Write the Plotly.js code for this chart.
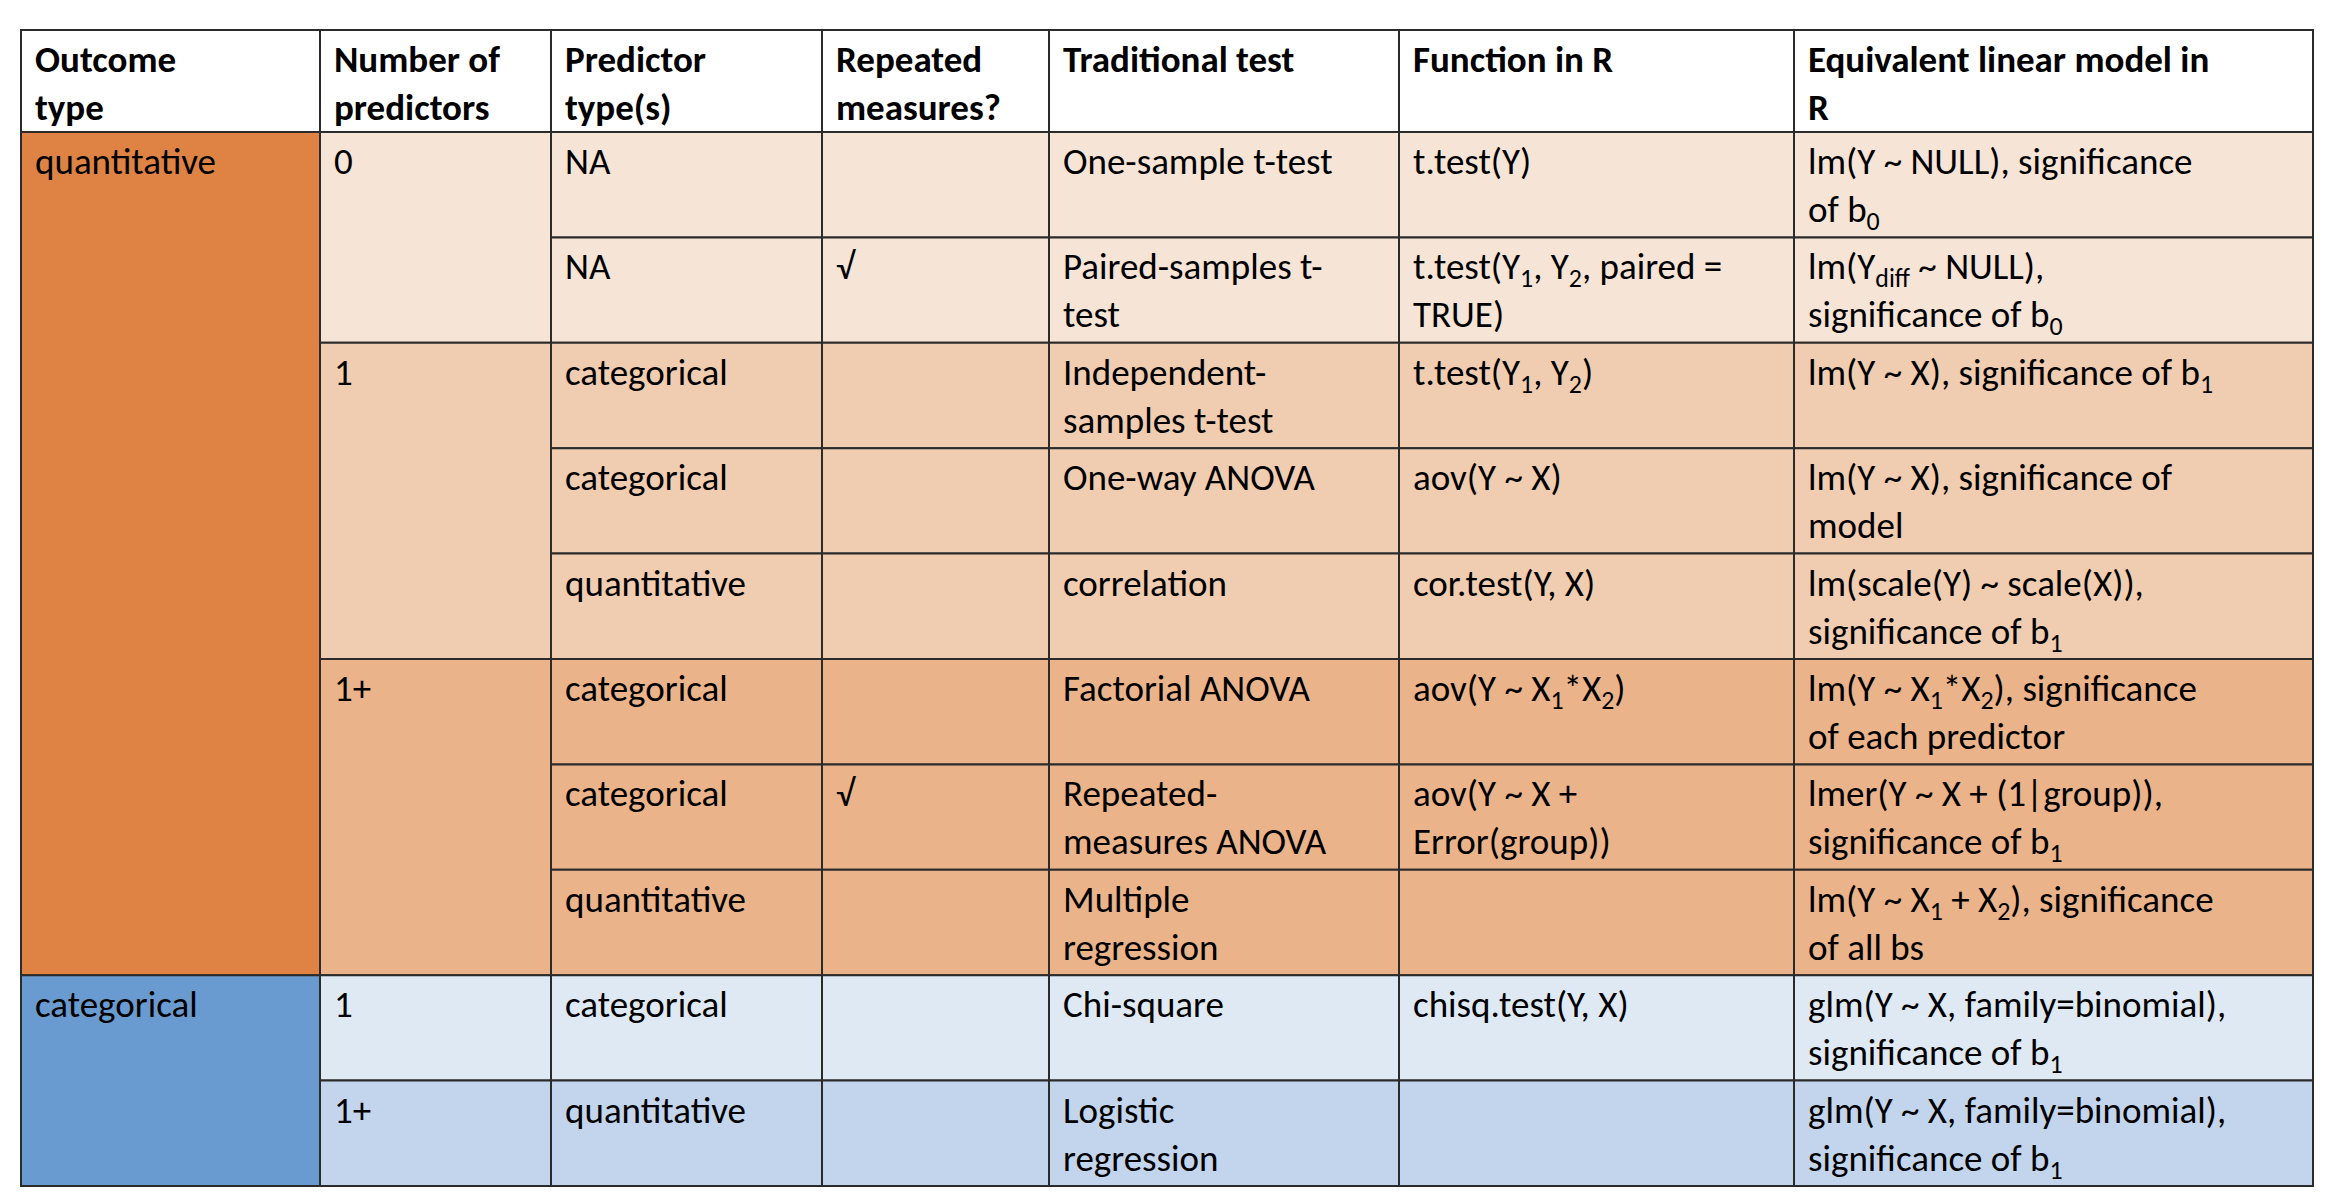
<!DOCTYPE html>
<html>
<head>
<meta charset="utf-8">
<script src="https://cdn.plot.ly/plotly-3.0.1.min.js"></script>
<style>body{margin:0;background:#fff}#chart{width:2334px;height:1204px}</style>
</head>
<body>
<div id="chart"></div>
<script>
const headers = ["Outcome<br>type", "Number of<br>predictors", "Predictor<br>type(s)", "Repeated<br>measures?",
  "Traditional test", "Function in R", "Equivalent linear model in<br>R"];

// merged groups: [label, first row, row count]
const outcomeGroups = [["quantitative", 0, 8], ["categorical", 8, 2]];
const predictorGroups = [["0", 0, 2], ["1", 2, 3], ["1+", 5, 3], ["1", 8, 1], ["1+", 9, 1]];

const predictorTypes = ["NA", "NA", "categorical", "categorical", "quantitative", "categorical",
  "categorical", "quantitative", "categorical", "quantitative"];
const repeated = ["", "√", "", "", "", "", "√", "", "", ""];
const traditional = ["One-sample t-test", "Paired-samples t-<br>test", "Independent-<br>samples t-test",
  "One-way ANOVA", "correlation", "Factorial ANOVA", "Repeated-<br>measures ANOVA", "Multiple<br>regression",
  "Chi-square", "Logistic<br>regression"];
const functionR = ["t.test(Y)", "t.test(Y<sub>1</sub>, Y<sub>2</sub>, paired =<br>TRUE)", "t.test(Y<sub>1</sub>, Y<sub>2</sub>)",
  "aov(Y ~ X)", "cor.test(Y, X)", "aov(Y ~ X<sub>1</sub>*X<sub>2</sub>)", "aov(Y ~ X +<br>Error(group))", "",
  "chisq.test(Y, X)", ""];
const linearModel = ["lm(Y ~ NULL), significance<br>of b<sub>0</sub>",
  "lm(Y<sub>diff</sub> ~ NULL),<br>significance of b<sub>0</sub>",
  "lm(Y ~ X), significance of b<sub>1</sub>",
  "lm(Y ~ X), significance of<br>model",
  "lm(scale(Y) ~ scale(X)),<br>significance of b<sub>1</sub>",
  "lm(Y ~ X<sub>1</sub>*X<sub>2</sub>), significance<br>of each predictor",
  "lmer(Y ~ X + (1|group)),<br>significance of b<sub>1</sub>",
  "lm(Y ~ X<sub>1</sub> + X<sub>2</sub>), significance<br>of all bs",
  "glm(Y ~ X, family=binomial),<br>significance of b<sub>1</sub>",
  "glm(Y ~ X, family=binomial),<br>significance of b<sub>1</sub>"];

const outcomeColors = ["#DF8344", "#6A9BD0"];
const groupColors = ["#F6E4D7", "#F0CCB0", "#EBB38A", "#DFE9F4", "#C3D5EC"];

const colX = [21, 320, 551, 822, 1049, 1399, 1794, 2313];
const top0 = 30, headBottom = 132, rowH = 105.4;
const rowY = (i) => headBottom + i * rowH;

const shapes = [];
const annotations = [];
const font = {family: "Carlito, 'Liberation Sans Narrow', Lato, sans-serif", size: 37, color: "#000"};

function cell(c, r0, r1, fill, text, bold) {
  const y0 = r0 === -1 ? top0 : rowY(r0);
  const y1 = r0 === -1 ? headBottom : rowY(r1);
  shapes.push({type: "rect", xref: "x", yref: "y", x0: colX[c], x1: colX[c + 1], y0: y0, y1: y1,
    fillcolor: fill, line: {color: "#2b2b2b", width: 2}, layer: "below"});
  if (text) {
    annotations.push({xref: "x", yref: "y", x: colX[c] + 12, y: y0 + 5, xanchor: "left", yanchor: "top",
      align: "left", showarrow: false, text: bold ? "<b>" + text.replace(/<br>/g, "</b><br><b>") + "</b>" : text,
      font: font});
  }
}

headers.forEach((h, c) => cell(c, -1, 0, "#fff", h, true));
outcomeGroups.forEach((g, k) => cell(0, g[1], g[1] + g[2], outcomeColors[k], g[0]));
predictorGroups.forEach((g, k) => {
  cell(1, g[1], g[1] + g[2], groupColors[k], g[0]);
  for (let r = g[1]; r < g[1] + g[2]; r++) {
    cell(2, r, r + 1, groupColors[k], predictorTypes[r]);
    cell(3, r, r + 1, groupColors[k], repeated[r]);
    cell(4, r, r + 1, groupColors[k], traditional[r]);
    cell(5, r, r + 1, groupColors[k], functionR[r]);
    cell(6, r, r + 1, groupColors[k], linearModel[r]);
  }
});

const layout = {
  width: 2334, height: 1204, margin: {l: 0, r: 0, t: 0, b: 0},
  paper_bgcolor: "#fff", plot_bgcolor: "#fff", showlegend: false,
  xaxis: {range: [0, 2334], visible: false, fixedrange: true},
  yaxis: {range: [1204, 0], visible: false, fixedrange: true},
  shapes: shapes, annotations: annotations
};
Plotly.newPlot("chart", [{x: [], y: [], type: "scatter"}], layout, {staticPlot: true});
</script>
</body>
</html>
